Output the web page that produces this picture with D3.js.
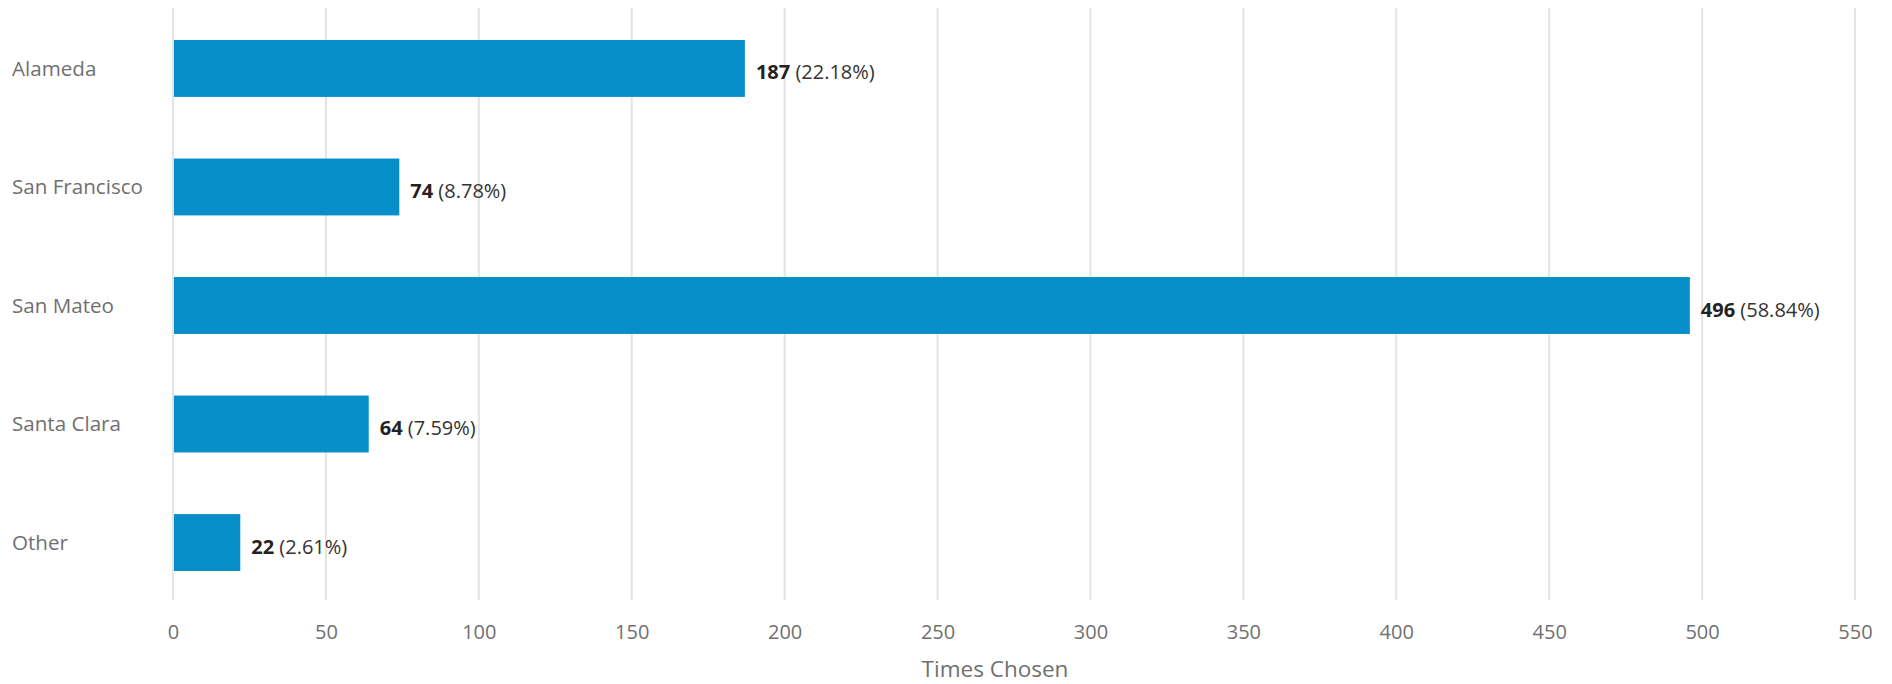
<!DOCTYPE html>
<html><head><meta charset="utf-8">
<script src="https://cdn.jsdelivr.net/npm/d3@7"></script>
<style>
html,body{margin:0;padding:0;background:#fff;}
svg text{font-family:"Open Sans",sans-serif;}
</style></head>
<body><svg id="chart" width="1892" height="684"></svg>
<script>
const categories = ["Alameda", "San Francisco", "San Mateo", "Santa Clara", "Other"];
const counts = [187, 74, 496, 64, 22];
const percents = ["22.18%", "8.78%", "58.84%", "7.59%", "2.61%"];
const xTicks = [0, 50, 100, 150, 200, 250, 300, 350, 400, 450, 500, 550];
const xTitle = "Times Chosen";

const svg = d3.select("#chart");
const x = d3.scaleLinear().domain([0, 550]).range([173, 1855]);
const y = d3.scaleBand().domain(categories).range([8, 603]).paddingInner(0.52).paddingOuter(0.27);

// grid
svg.append("g").selectAll("line").data(xTicks).join("line")
  .attr("x1", d => x(d)).attr("x2", d => x(d))
  .attr("y1", 8).attr("y2", 600)
  .attr("stroke", "#e3e3e3").attr("stroke-width", 2);

// bars
svg.append("g").selectAll("rect").data(categories).join("rect")
  .attr("x", x(0) + 1).attr("y", d => y(d))
  .attr("width", (d, i) => x(counts[i]) - x(0) - 1)
  .attr("height", y.bandwidth())
  .attr("fill", "#068ec8");

// category labels
svg.append("g").selectAll("text").data(categories).join("text")
  .attr("x", 12).attr("y", d => y(d) + y.bandwidth() / 2)
  .attr("dy", "0.35em").attr("font-size", 20.6).attr("fill", "#707070")
  .text(d => d);

// value labels
const vl = svg.append("g").selectAll("text").data(categories).join("text")
  .attr("x", (d, i) => x(counts[i]) + 11)
  .attr("y", d => y(d) + y.bandwidth() / 2 + 4)
  .attr("dy", "0.35em").attr("font-size", 20).attr("fill", "#222");
vl.append("tspan").attr("font-weight", "bold").text((d, i) => counts[i]);
vl.append("tspan").attr("fill", "#333").text((d, i) => " (" + percents[i] + ")");

// x axis
const axis = d3.axisBottom(x).tickValues(xTicks).tickSize(0).tickPadding(0);
const ag = svg.append("g").attr("transform", "translate(0,625)").call(axis);
ag.select(".domain").remove();
ag.selectAll("text").attr("font-size", 20).attr("fill", "#707070")
  .attr("font-family", "\"Open Sans\",sans-serif").attr("dy", "0.35em").attr("y", 7);

svg.append("text").attr("x", 995).attr("y", 669).attr("dy", "0.35em")
  .attr("text-anchor", "middle").attr("font-size", 22.5).attr("fill", "#707070")
  .text(xTitle);
</script></body></html>
